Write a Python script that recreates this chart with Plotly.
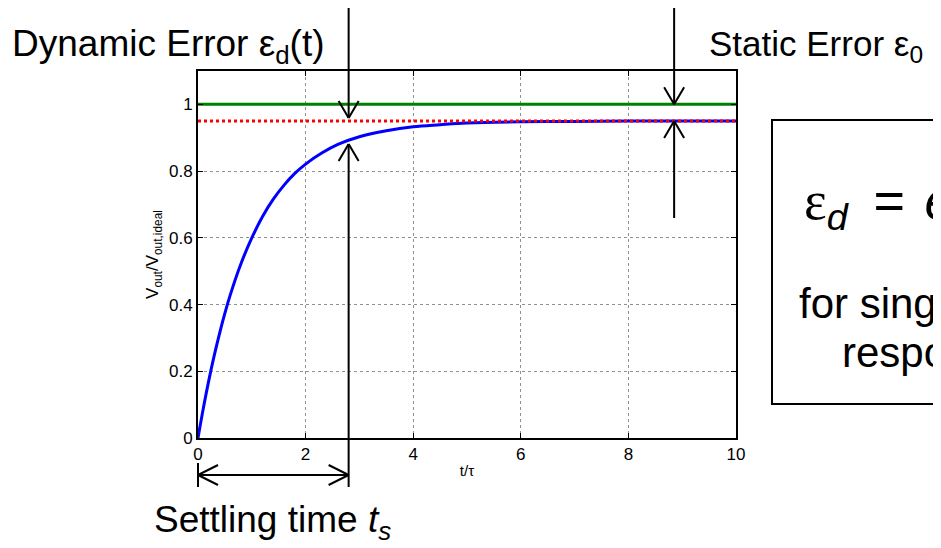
import plotly.graph_objects as go

# ---- data ----
t_over_tau = [0, 0.1, 0.2, 0.3, 0.4, 0.5, 0.6, 0.8, 1.0, 1.2, 1.4, 1.6, 1.8, 2.0,
              2.3, 2.6, 3.0, 3.5, 4.0, 4.5, 5.0, 6.0, 7.0, 8.0, 9.0, 10.0]
v_ratio = [0.0, 0.090, 0.172, 0.246, 0.313, 0.374, 0.429, 0.523, 0.600, 0.664,
           0.716, 0.758, 0.793, 0.821, 0.854, 0.880, 0.903, 0.921, 0.933, 0.939,
           0.944, 0.948, 0.949, 0.950, 0.950, 0.950]
ideal_level = [1.0, 1.0]
final_level = [0.95, 0.95]
level_x = [0, 10]
x_ticks = [0, 2, 4, 6, 8, 10]
y_ticks = [0, 0.2, 0.4, 0.6, 0.8, 1.0]
y_tick_text = ["0", "0.2", "0.4", "0.6", "0.8", "1"]

# annotation positions (data units)
settle_t = 2.8
settle_v = 0.89
static_t = 8.85

X0, X1 = 0, 10
Y0, Y1 = 0, 1.1
OFF = 8  # page body margin
W, H = 941 - OFF, 548 - OFF
ML, MT = 198 - OFF, 71 - OFF
PW, PH = 538, 367
MR = W - ML - PW
MB = H - MT - PH

def px(x):
    return (x - X0) / (X1 - X0)

def py(y):
    return (y - Y0) / (Y1 - Y0)

def ppx(p):  # reference pixel x -> paper
    return (p - OFF - ML) / PW

def ppy(p):  # reference pixel y -> paper
    return (MT + PH - (p - OFF)) / PH

fig = go.Figure()
fig.add_trace(go.Scatter(x=level_x, y=ideal_level, mode="lines",
                         line=dict(color="#008000", width=3), showlegend=False))
fig.add_trace(go.Scatter(x=t_over_tau, y=v_ratio, mode="lines",
                         line=dict(color="#0000ff", width=3, shape="spline"),
                         showlegend=False))
fig.add_trace(go.Scatter(x=level_x, y=final_level, mode="lines",
                         line=dict(color="#ff0000", width=3, dash="dot"),
                         showlegend=False))

shapes = []
LW = 2
def seg(x0, y0, x1, y1):
    shapes.append(dict(type="line", xref="paper", yref="paper",
                       x0=x0, y0=y0, x1=x1, y1=y1,
                       line=dict(color="black", width=LW)))

AX = 10 / PW   # arrowhead half-width (paper)
AY = 17 / PH   # arrowhead length (paper)
AXH = 20 / PW  # horizontal arrowhead length
AYH = 10 / PH  # horizontal arrowhead half-width

def head_down(x, y):
    seg(x - AX, y + AY, x, y)
    seg(x + AX, y + AY, x, y)

def head_up(x, y):
    seg(x - AX, y - AY, x, y)
    seg(x + AX, y - AY, x, y)

def head_left(x, y):
    seg(x + AXH, y + AYH, x, y)
    seg(x + AXH, y - AYH, x, y)

def head_right(x, y):
    seg(x - AXH, y + AYH, x, y)
    seg(x - AXH, y - AYH, x, y)

top_y = ppy(8)
bottom_y = ppy(487)

# dynamic error arrows
sx = px(settle_t)
seg(sx, top_y, sx, py(0.95) + 3 / PH)
head_down(sx, py(0.95) + 3 / PH)
seg(sx, bottom_y, sx, py(settle_v) - 3 / PH)
head_up(sx, py(settle_v) - 3 / PH)

# settling time double arrow
hy = ppy(475)
seg(px(0), ppy(463), px(0), bottom_y)
seg(px(0), hy, sx, hy)
head_left(px(0), hy)
head_right(sx, hy)

# static error arrows
tx = px(static_t)
seg(tx, top_y, tx, py(1.0))
head_down(tx, py(1.0))
seg(tx, ppy(218), tx, py(0.95))
head_up(tx, py(0.95))

# box on right
shapes.append(dict(type="rect", xref="paper", yref="paper",
                   x0=ppx(772), x1=ppx(1100), y0=ppy(404), y1=ppy(120),
                   line=dict(color="black", width=2), fillcolor="rgba(0,0,0,0)"))

FONT = "Liberation Sans, Arial, sans-serif"
annotations = [
    dict(text="Dynamic Error ε<sub>d</sub>(t)", x=ppx(10), y=ppy(46),
         xanchor="left", yanchor="middle", font=dict(size=37)),
    dict(text="Static Error ε<sub>0</sub>", x=ppx(707), y=ppy(46),
         xanchor="left", yanchor="middle", font=dict(size=35)),
    dict(text="Settling time <i>t<sub>s</sub></i>", x=ppx(152), y=ppy(522),
         xanchor="left", yanchor="middle", font=dict(size=37)),
    dict(text="<span style='font-family:Liberation Serif'>ε</span><sub><i>d</i></sub>\u2009 =\u200a <i>e</i><sup>−t/τ</sup>",
         x=ppx(802), y=ppy(200), xanchor="left", yanchor="middle",
         font=dict(size=54)),
    dict(text="for single pole", x=ppx(930), y=ppy(303),
         xanchor="center", yanchor="middle", font=dict(size=42)),
    dict(text="response", x=ppx(928), y=ppy(352),
         xanchor="center", yanchor="middle", font=dict(size=42)),
]
for a in annotations:
    a.update(xref="paper", yref="paper", showarrow=False)
    a["font"].update(family=FONT, color="black")

axis_common = dict(showline=True, linecolor="black", linewidth=2, mirror="ticks",
                   ticks="inside", ticklen=5, tickcolor="black",
                   showgrid=True, gridcolor="#909090", griddash="dot", gridwidth=1,
                   zeroline=False, tickfont=dict(size=17, family=FONT, color="black"))

fig.update_layout(
    width=W, height=H,
    margin=dict(l=ML, r=MR, t=MT, b=MB),
    paper_bgcolor="white", plot_bgcolor="white",
    font=dict(family=FONT, color="black"),
    xaxis=dict(range=[X0, X1], tickvals=x_ticks,
               title=dict(text="t/τ", font=dict(size=15), standoff=2),
               **axis_common),
    yaxis=dict(range=[Y0, Y1], tickvals=y_ticks, ticktext=y_tick_text,
               title=dict(text="V<sub>out</sub>/V<sub>out,ideal</sub>",
                          font=dict(size=17), standoff=6),
               **axis_common),
    shapes=shapes,
    annotations=annotations,
)

fig.write_html("out.html")
